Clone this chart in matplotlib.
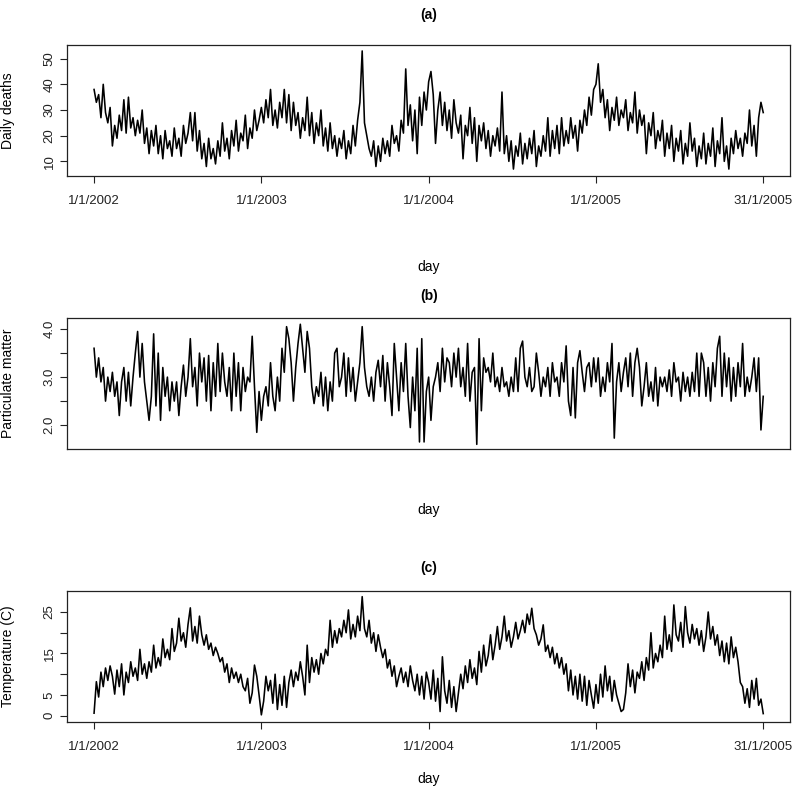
import numpy as np
import matplotlib
matplotlib.use("Agg")
import matplotlib.pyplot as plt

plt.rcParams['font.family'] = ['Liberation Sans', 'DejaVu Sans']

# day index, one reading every 5 days (1/1/2002 .. end of 2005)
day = np.arange(1, 1462, 5)

# (a) daily deaths
deaths = [
    38, 33, 36, 27, 40, 29, 25, 31, 16, 24, 19, 28,
    22, 34, 21, 35, 23, 27, 20, 26, 21, 30, 17, 23,
    13, 22, 16, 24, 13, 20, 11, 22, 15, 18, 12, 23,
    15, 19, 12, 24, 17, 21, 29, 18, 29, 14, 22, 11,
    17, 8, 19, 11, 15, 9, 18, 12, 25, 14, 19, 11,
    22, 16, 26, 14, 21, 18, 28, 15, 23, 19, 30, 22, 26,
    # 2003
    31, 25, 34, 27, 38, 24, 30, 23, 33, 27, 38, 25,
    36, 22, 33, 24, 29, 19, 27, 22, 35, 20, 29, 17,
    25, 20, 30, 16, 23, 14, 25, 15, 20, 12, 19, 15,
    22, 11, 18, 13, 24, 16, 26, 33, 53, 25, 20, 15,
    12, 18, 8, 16, 10, 19, 13, 18, 12, 24, 17, 20,
    14, 26, 21, 46, 24, 32, 18, 30, 13, 35, 24, 37, 30,
    # 2004
    41, 45, 36, 17, 30, 37, 24, 33, 22, 30, 19, 34,
    25, 21, 28, 11, 24, 20, 31, 17, 27, 10, 24, 18,
    25, 15, 22, 12, 20, 16, 23, 14, 37, 13, 20, 10,
    18, 7, 16, 12, 21, 9, 17, 11, 19, 13, 22, 8,
    16, 12, 20, 14, 27, 12, 22, 15, 24, 13, 27, 16,
    22, 17, 27, 19, 24, 14, 26, 21, 30, 24, 35, 28, 38,
    # 2005
    40, 48, 33, 38, 27, 34, 22, 31, 26, 35, 24, 30,
    27, 34, 22, 29, 25, 37, 21, 30, 24, 28, 13, 25,
    20, 29, 15, 22, 18, 26, 12, 21, 15, 24, 10, 19,
    14, 22, 9, 17, 12, 25, 14, 19, 8, 16, 11, 21,
    9, 17, 12, 23, 8, 18, 13, 27, 10, 16, 7, 19,
    13, 22, 15, 19, 12, 21, 17, 30, 16, 24, 12, 27, 33, 29,
]

# (b) particulate matter
pm = [
    3.6, 3.0, 3.4, 2.9, 3.2, 2.5, 3.0, 2.7, 3.1, 2.6, 2.9, 2.2,
    2.9, 3.2, 2.5, 3.1, 2.4, 3.0, 3.5, 3.95, 3.0, 3.7, 2.9, 2.5,
    2.1, 2.6, 3.9, 2.4, 3.5, 2.1, 3.2, 2.6, 3.0, 2.3, 2.9, 2.5,
    2.9, 2.2, 2.8, 3.25, 2.6, 3.0, 3.8, 2.8, 3.2, 2.4, 3.5, 2.9,
    3.4, 2.5, 3.45, 2.3, 3.3, 2.6, 3.7, 2.7, 3.5, 2.9, 2.6, 3.2,
    2.3, 3.5, 2.6, 3.3, 2.3, 3.2, 2.7, 3.0, 2.9, 3.85, 2.8, 1.85, 2.7,
    # 2003
    2.1, 2.6, 2.8, 2.4, 3.3, 2.6, 2.3, 3.0, 2.5, 3.6, 3.1, 4.05,
    3.8, 3.3, 2.5, 3.2, 3.7, 4.1, 3.6, 3.1, 3.95, 3.6, 2.8, 2.45,
    2.8, 2.6, 3.1, 2.4, 3.0, 2.3, 2.9, 2.5, 3.5, 3.6, 2.8, 3.0,
    3.5, 2.6, 3.4, 2.7, 3.2, 2.5, 2.9, 3.3, 4.05, 3.2, 2.8, 2.6,
    3.0, 2.5, 3.1, 3.35, 2.8, 3.45, 2.5, 3.3, 2.8, 2.2, 3.7, 3.0,
    2.3, 3.3, 2.7, 3.7, 2.6, 1.95, 3.0, 2.3, 3.6, 1.65, 3.8, 1.65, 2.7,
    # 2004
    3.0, 2.1, 2.8, 3.0, 3.3, 2.7, 3.6, 2.9, 3.4, 3.3, 2.8, 3.5,
    3.0, 3.6, 2.8, 3.2, 2.6, 3.7, 2.5, 3.1, 3.2, 1.6, 3.8, 2.3,
    3.4, 3.1, 3.2, 2.9, 3.5, 2.8, 3.0, 2.7, 3.2, 2.8, 2.9, 2.6,
    3.0, 2.7, 3.4, 2.7, 3.6, 3.75, 3.0, 2.8, 3.2, 2.7, 2.8, 3.5,
    3.1, 2.6, 3.0, 2.8, 3.2, 2.6, 3.3, 2.9, 3.0, 2.6, 3.3, 2.9,
    3.65, 2.5, 2.2, 3.2, 2.15, 3.3, 3.55, 3.1, 2.7, 3.2, 3.3, 2.8, 3.4,
    # 2005
    2.9, 3.4, 2.6, 3.0, 2.7, 3.3, 2.9, 3.7, 1.73, 2.9, 3.3, 2.7,
    3.1, 3.4, 2.8, 3.5, 2.6, 3.3, 3.6, 3.2, 2.4, 2.8, 3.3, 2.6,
    2.9, 2.5, 3.2, 2.4, 3.0, 2.8, 3.0, 2.7, 3.15, 2.6, 3.3, 2.9,
    3.0, 2.5, 3.1, 2.7, 3.0, 2.6, 3.1, 2.7, 3.5, 2.6, 3.5, 3.3,
    2.6, 3.2, 2.5, 3.3, 2.8, 3.6, 3.85, 2.6, 3.5, 2.8, 3.4, 2.5,
    3.2, 2.6, 3.3, 2.8, 3.7, 2.6, 3.0, 2.7, 3.0, 3.4, 2.7, 3.4, 1.9, 2.6,
]

# (c) temperature
temp = [
    0.6, 8.2, 4.5, 10.5, 7.0, 11.5, 8.5, 12.0, 9.5, 5.2, 11.0, 7.0,
    12.5, 5.0, 10.5, 8.0, 13.0, 9.5, 11.5, 8.5, 16.0, 10.0, 12.5, 9.0,
    13.0, 10.5, 17.0, 11.5, 14.0, 12.0, 18.5, 14.0, 16.0, 13.5, 21.0, 15.5,
    17.5, 23.5, 18.0, 20.0, 16.5, 22.0, 26.0, 18.0, 21.5, 17.5, 24.0, 19.5,
    17.0, 19.5, 16.0, 17.5, 14.5, 16.5, 15.0, 13.0, 14.0, 10.5, 12.5, 8.0,
    11.5, 9.0, 10.5, 8.0, 10.0, 7.0, 6.0, 9.0, 3.0, 5.5, 12.2, 9.5, 5.0,
    # 2003
    0.2, 3.5, 9.5, 6.0, 8.5, 3.0, 10.0, 1.5, 7.5, 2.5, 9.5, 2.0,
    8.0, 11.0, 7.0, 10.5, 8.5, 13.0, 9.5, 5.0, 17.0, 8.0, 14.0, 10.5,
    13.5, 10.0, 15.0, 12.5, 16.0, 14.5, 23.0, 16.5, 20.5, 17.5, 21.0, 19.0,
    23.0, 20.0, 25.5, 18.5, 22.0, 19.0, 24.0, 20.5, 28.7, 21.0, 19.0, 23.0,
    17.5, 20.0, 15.5, 19.5, 16.5, 14.0, 16.0, 11.5, 13.5, 9.5, 12.0, 7.0,
    9.5, 11.5, 8.0, 10.5, 7.0, 12.0, 8.5, 6.0, 10.0, 5.0, 9.5, 4.0, 10.5,
    # 2004
    8.0, 4.0, 11.0, 3.5, 9.0, 1.0, 14.2, 6.0, 3.0, 8.5, 2.0, 7.0,
    1.0, 5.5, 10.0, 6.5, 12.0, 8.0, 13.5, 9.0, 11.5, 7.5, 15.5, 10.5,
    17.0, 12.0, 14.5, 19.5, 13.5, 17.0, 21.5, 16.0, 19.0, 24.0, 18.0, 20.5,
    16.5, 19.0, 22.5, 18.5, 20.5, 23.0, 20.0, 24.5, 22.0, 25.9, 21.0, 19.5,
    17.0, 18.5, 21.9, 15.5, 17.0, 14.0, 16.5, 12.5, 15.0, 11.5, 14.0, 10.0,
    12.5, 6.0, 11.0, 5.0, 9.5, 4.0, 10.0, 3.5, 9.5, 2.5, 8.5, 5.0, 1.8,
    # 2005
    7.5, 3.0, 10.0, 4.5, 12.0, 6.0, 9.5, 3.5, 8.5, 5.0, 3.0, 1.0,
    1.5, 5.5, 12.5, 7.0, 11.0, 5.5, 10.5, 9.0, 13.0, 8.5, 14.0, 11.0,
    20.0, 11.5, 15.0, 13.0, 17.0, 14.0, 24.0, 16.0, 19.5, 15.5, 26.7, 19.5,
    18.0, 22.5, 16.5, 26.3, 20.0, 17.5, 22.0, 18.5, 21.0, 17.0, 20.5, 15.5,
    19.0, 25.0, 18.5, 21.5, 17.0, 19.5, 14.5, 18.0, 13.0, 17.5, 12.5, 19.0,
    14.0, 16.5, 13.0, 8.0, 7.0, 3.0, 6.5, 2.0, 8.5, 4.0, 9.0, 2.5, 4.0, 0.5,
]

tick_days = [1, 366, 731, 1096, 1461]
tick_labels = ['1/1/2002', '1/1/2003', '1/1/2004', '1/1/2005', '31/1/2005']

fig = plt.figure(figsize=(8, 7.92), dpi=100)

W, H = 800.0, 792.0
left, right = 67.3 / W, 790.0 / W
boxes = [(45.3, 176.0), (318.0, 448.7), (591.0, 721.7)]


def make_ax(top, bottom):
    ax = fig.add_axes([left, 1 - bottom / H, right - left, (bottom - top) / H])
    for s in ax.spines.values():
        s.set_linewidth(0.9)
        s.set_color('#222222')
    ax.tick_params(direction='out', length=5, width=0.8, labelsize=9.5, colors='#222222')
    ax.set_xlim(-57.4, 1519.4)
    return ax


# (a)
ax1 = make_ax(*boxes[0])
ax1.plot(day, deaths, color='black', lw=1.15)
ax1.set_ylim(4.3, 55.2)
ax1.set_yticks([10, 20, 30, 40, 50])
ax1.set_xticks(tick_days)
ax1.set_xticklabels(tick_labels)
ax1.set_ylabel('Daily deaths', fontsize=10)
ax1.set_xlabel('day', fontsize=10)
ax1.xaxis.set_label_coords(0.5, -0.643)

# (b)
ax2 = make_ax(*boxes[1])
ax2.plot(day, pm, color='black', lw=1.15)
ax2.set_ylim(1.51, 4.23)
ax2.set_yticks([2.0, 2.5, 3.0, 3.5, 4.0])
ax2.set_yticklabels(['2.0', '', '3.0', '', '4.0'])
ax2.set_xticks([])
ax2.set_ylabel('Particulate matter', fontsize=10)
ax2.set_xlabel('day', fontsize=10)
ax2.xaxis.set_label_coords(0.5, -0.415)

# (c)
ax3 = make_ax(*boxes[2])
ax3.plot(day, temp, color='black', lw=1.15)
ax3.set_ylim(-1.45, 30.06)
ax3.set_yticks([0, 5, 10, 15, 20, 25])
ax3.set_yticklabels(['0', '5', '', '15', '', '25'])
ax3.set_xticks(tick_days)
ax3.set_xticklabels(tick_labels)
ax3.set_ylabel('Temperature (C)', fontsize=10)
ax3.set_xlabel('day', fontsize=10)
ax3.xaxis.set_label_coords(0.5, -0.385)

for ax in (ax1, ax2, ax3):
    plt.setp(ax.get_yticklabels(), rotation=90, va='center')
    ax.yaxis.set_label_coords(-0.072, 0.5)
    ax.tick_params(axis='x', pad=9)

cx = (left + right) / 2
for lab, yy in zip(['(a)', '(b)', '(c)'], [15, 296, 568]):
    fig.text(cx, 1 - yy / H, lab, ha='center', va='center', fontsize=10, fontweight='bold')

fig.savefig('out.png', dpi=100)
